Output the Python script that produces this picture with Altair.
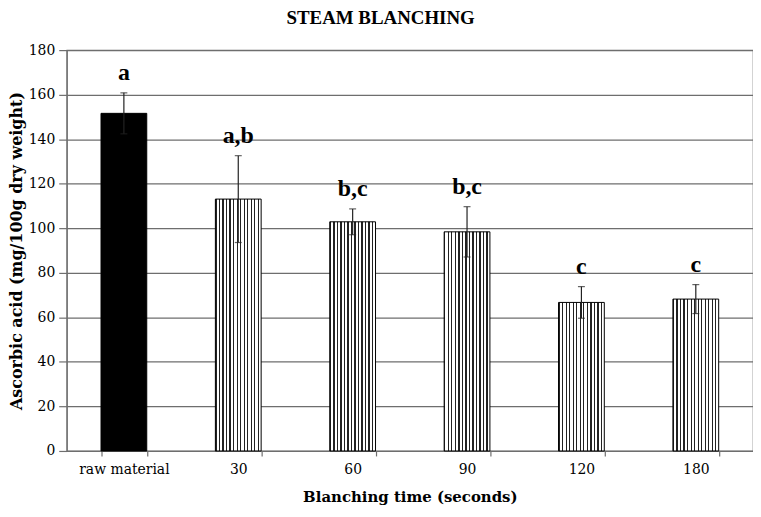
import altair as alt
import pandas as pd

categories = ["raw material", "30", "60", "90", "120", "180"]
values = [151.6, 113.1, 102.9, 98.4, 66.7, 68.2]
errors = [9.2, 19.5, 5.8, 11.3, 7.1, 6.5]
letters = ["a", "a,b", "b,c", "b,c", "c", "c"]
kinds = ["raw", "blanched", "blanched", "blanched", "blanched", "blanched"]

df = pd.DataFrame({
    "cat": categories,
    "val": values,
    "err": errors,
    "letter": letters,
    "kind": kinds,
})
df["lo"] = df["val"] - df["err"]
df["hi"] = df["val"] + df["err"]

# vertical stripe pattern via a hard-stop linear gradient
N = 13
w = 0.028
stops = []
for k in range(N):
    a = k / N
    stops += [
        alt.GradientStop(offset=a, color="#222222"),
        alt.GradientStop(offset=a + w, color="#222222"),
        alt.GradientStop(offset=a + w, color="#ffffff"),
        alt.GradientStop(offset=(k + 1) / N, color="#ffffff"),
    ]
stripe = alt.LinearGradient(gradient="linear", stops=stops, x1=0, x2=1, y1=0, y2=0)

x_enc = alt.X(
    "cat:N",
    sort=categories,
    scale=alt.Scale(paddingInner=0.6, paddingOuter=0.3),
    axis=alt.Axis(
        title="Blanching time (seconds)",
        labelAngle=0,
        tickBand="extent",
        tickSize=5,
        labelPadding=7,
        titlePadding=13,
    ),
)
y_scale = alt.Scale(domain=[0, 180], nice=False)
y_axis = alt.Axis(
    title="Ascorbic acid (mg/100g dry weight)",
    values=list(range(0, 181, 20)),
    tickSize=8,
    labelPadding=4,
    titlePadding=4,
    titleFontSize=16,
    grid=True,
)

base = alt.Chart(df)

bars_raw = base.transform_filter(alt.datum.kind == "raw").mark_bar(
    fill="#000000", stroke="#000000", strokeWidth=1
).encode(x=x_enc, y=alt.Y("val:Q", scale=y_scale, axis=y_axis))

bars_bl = base.transform_filter(alt.datum.kind == "blanched").mark_bar(
    fill=stripe, stroke="#000000", strokeWidth=1
).encode(x=x_enc, y=alt.Y("val:Q", scale=y_scale, axis=y_axis))

err_rule = base.mark_rule(color="#222222", strokeWidth=1.2).encode(
    x=alt.X("cat:N", sort=categories), y="lo:Q", y2="hi:Q"
)
cap_hi = base.mark_tick(color="#222222", thickness=1.2, size=7).encode(
    x=alt.X("cat:N", sort=categories), y="hi:Q"
)
cap_lo = base.mark_tick(color="#222222", thickness=1.2, size=7).encode(
    x=alt.X("cat:N", sort=categories), y="lo:Q"
)
labels = base.mark_text(
    font="Liberation Serif", fontWeight="bold", fontSize=24,
    baseline="bottom", dy=-8, color="#000000",
).encode(x=alt.X("cat:N", sort=categories), y="hi:Q", text="letter:N")

chart = alt.layer(bars_raw, bars_bl, err_rule, cap_hi, cap_lo, labels).properties(
    width=690,
    height=403,
    padding=0,
    title=alt.TitleParams(
        "STEAM BLANCHING", font="Liberation Serif", fontSize=19,
        fontWeight="bold", anchor="middle", frame="bounds", offset=15,
        color="#000000",
    ),
).configure_view(
    stroke="#6e6e6e", strokeWidth=1.2
).configure_axis(
    labelFont="DejaVu Serif", labelFontSize=14, labelColor="#000000",
    titleFont="DejaVu Serif", titleFontSize=15, titleFontWeight="bold",
    titleColor="#000000",
    domainColor="#6e6e6e", domainWidth=1.2,
    tickColor="#6e6e6e", tickWidth=1.2,
    gridColor="#6e6e6e", gridWidth=1.2,
)

chart.save("out.html", embed_options={"renderer": "svg", "actions": False})
